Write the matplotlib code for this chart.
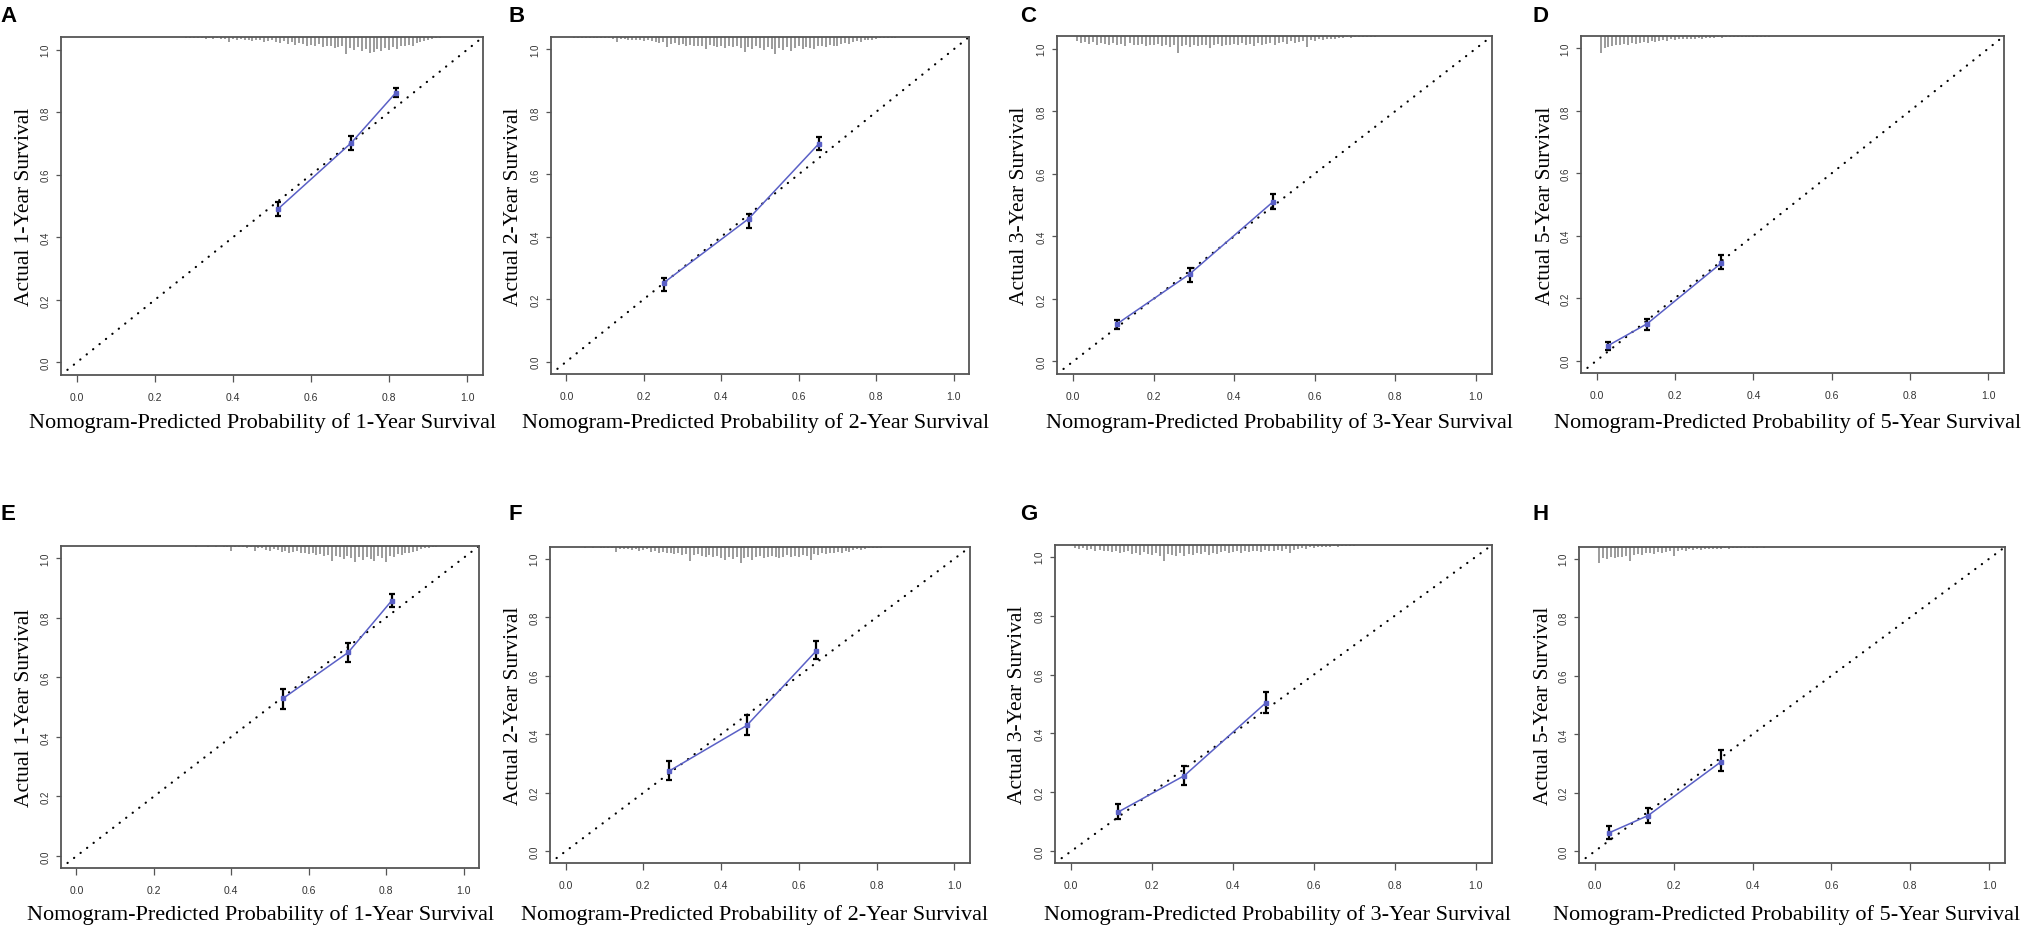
import matplotlib
matplotlib.use("Agg")
import matplotlib.pyplot as plt
import numpy as np

W, H = 2023, 928

# ---------------- data ----------------
panel_letters = ["A", "B", "C", "D", "E", "F", "G", "H"]
years = ["1", "2", "3", "5", "1", "2", "3", "5"]

# calibration points: predicted, observed, CI low, CI high
pred_A = [0.515, 0.703, 0.817]; obs_A = [0.490, 0.702, 0.862]; lo_A = [0.467, 0.680, 0.847]; hi_A = [0.512, 0.723, 0.878]
pred_B = [0.251, 0.471, 0.652]; obs_B = [0.252, 0.458, 0.698]; lo_B = [0.227, 0.428, 0.677]; hi_B = [0.268, 0.474, 0.719]
pred_C = [0.109, 0.289, 0.497]; obs_C = [0.120, 0.279, 0.511]; lo_C = [0.104, 0.255, 0.487]; hi_C = [0.134, 0.298, 0.535]
pred_D = [0.028, 0.129, 0.318]; obs_D = [0.047, 0.118, 0.312]; lo_D = [0.035, 0.097, 0.292]; hi_D = [0.060, 0.132, 0.337]
pred_E = [0.534, 0.702, 0.814]; obs_E = [0.529, 0.683, 0.856]; lo_E = [0.493, 0.650, 0.834]; hi_E = [0.560, 0.714, 0.880]
pred_F = [0.266, 0.466, 0.644]; obs_F = [0.274, 0.430, 0.684]; lo_F = [0.244, 0.396, 0.656]; hi_F = [0.309, 0.465, 0.719]
pred_G = [0.116, 0.280, 0.481]; obs_G = [0.133, 0.257, 0.504]; lo_G = [0.111, 0.226, 0.470]; hi_G = [0.160, 0.291, 0.540]
pred_H = [0.036, 0.135, 0.319]; obs_H = [0.063, 0.122, 0.305]; lo_H = [0.042, 0.097, 0.273]; hi_H = [0.085, 0.148, 0.347]

# distribution of predicted risk (relative spike heights in 0.01-wide bins)
rug_start_A = 0.28
rug_A = [0.05,0.05,0.08,0.05,0.08,0.1,0.05,0.1,0.08,0.1,0.12,
         0.3,
         0.1,0.15,0.12,0.2,0.15,0.25,0.2,0.15,0.3,0.25,
         0.2,0.3,0.35,0.25,0.4,0.3,0.45,0.35,0.4,0.5,
         0.45,0.55,0.4,0.6,0.5,0.55,0.65,0.6,0.5,1.0,
         0.65,0.75,0.6,0.8,0.7,0.95,0.9,0.7,0.8,0.65,
         0.75,0.6,0.7,0.5,0.55,0.45,0.5,0.35,0.3,0.25,
         0.15,0.1,0.08,0.05]
rug_start_B = 0.02
rug_B = [0.03,0.03,0.05,0.03,0.05,0.05,0.05,0.08,0.05,0.08,
         0.1,0.3,0.1,0.12,0.15,0.2,0.15,0.2,0.25,0.2,
         0.25,0.3,0.35,0.3,0.6,0.4,0.35,0.45,0.4,0.55,
         0.45,0.5,0.55,0.5,0.7,0.45,0.55,0.6,0.5,0.65,
         0.55,0.6,0.5,0.65,0.9,0.6,0.7,0.55,0.65,0.75,
         0.6,0.7,1.0,0.65,0.75,0.6,0.8,0.65,0.55,0.7,
         0.6,0.65,0.7,0.55,0.5,0.6,0.45,0.5,0.55,0.4,
         0.35,0.4,0.3,0.25,0.3,0.2,0.15,0.2,0.1,0.08,
         0.05,0.05,0.03,0.03]
rug_start_C = 0.01
rug_C = [0.3,0.4,0.35,0.45,0.35,0.5,0.4,0.45,0.55,0.4,
         0.5,0.45,0.6,0.4,0.55,0.5,0.45,0.6,0.5,0.55,
         0.45,0.6,0.5,0.65,0.55,1.0,0.6,0.5,0.65,0.55,
         0.6,0.5,0.55,0.7,0.5,0.45,0.6,0.5,0.55,0.45,
         0.5,0.4,0.55,0.45,0.6,0.4,0.5,0.45,0.4,0.5,
         0.4,0.35,0.45,0.3,0.4,0.35,0.3,0.65,0.25,0.3,
         0.2,0.25,0.15,0.2,0.15,0.1,0.1,0.08,0.1,0.05,
         0.05,0.05,0.03,0.03,0.03]
rug_start_D = 0.01
rug_D = [1.0,0.7,0.65,0.6,0.5,0.55,0.45,0.5,0.4,
         0.45,0.4,0.35,0.4,0.3,0.35,0.3,0.25,0.3,0.2,
         0.25,0.2,0.15,0.2,0.15,0.18,0.12,0.15,0.1,0.12,
         0.1,0.08,0.1,0.06,0.08,0.05,0.06,0.05,0.04,0.08,
         0.04,0.03,0.03,0.03,0.03,0.02,0.02,0.02,0.02,0.02,0.02]
rug_start_E = 0.28
rug_E = [0.03,0.03,0.03,0.05,0.03,0.03,0.05,0.03,0.05,0.03,0.05,0.05,
         0.3,0.05,0.08,0.05,0.1,0.08,0.3,0.1,0.15,0.25,
         0.3,0.2,0.25,0.35,0.3,0.4,0.35,0.3,0.45,0.4,
         0.5,0.45,0.55,0.5,0.6,0.55,0.9,0.6,0.7,0.8,
         0.6,0.75,1.0,0.7,0.85,0.65,0.8,0.9,0.6,0.75,
         0.95,0.6,0.7,0.5,0.55,0.4,0.45,0.35,0.3,0.2,
         0.15,0.1,0.05,0.05]
rug_start_F = 0.02
rug_F = [0.03,0.03,0.03,0.05,0.03,0.05,0.03,0.05,0.05,0.08,
         0.05,0.3,0.1,0.15,0.1,0.2,0.15,0.25,0.2,0.15,
         0.3,0.25,0.35,0.3,0.4,0.35,0.45,0.4,0.5,0.45,
         0.85,0.5,0.45,0.55,0.6,0.5,0.65,0.55,0.7,0.8,
         0.6,0.75,0.65,1.0,0.7,0.6,0.8,0.65,0.55,0.7,
         0.6,0.55,0.65,0.7,0.6,0.5,0.65,0.55,0.6,0.5,
         0.55,0.8,0.45,0.5,0.4,0.45,0.35,0.4,0.3,0.35,
         0.25,0.3,0.2,0.15,0.2,0.1,0.08,0.05,0.05,0.05,
         0.03]
rug_start_G = 0.01
rug_G = [0.2,0.25,0.2,0.3,0.25,0.35,0.3,0.4,0.35,0.45,
         0.4,0.5,0.45,0.4,0.55,0.5,0.6,0.45,0.55,0.6,
         0.5,0.65,1.0,0.55,0.6,0.7,0.5,0.65,0.55,0.6,
         0.5,0.55,0.45,0.6,0.5,0.55,0.45,0.4,0.5,0.45,
         0.4,0.5,0.35,0.45,0.4,0.35,0.45,0.3,0.4,0.35,
         0.3,0.35,0.25,0.5,0.3,0.25,0.2,0.25,0.15,0.2,
         0.15,0.12,0.1,0.12,0.08,0.1,0.05,0.08,0.05,0.05,
         0.03,0.03]
rug_start_H = 0.01
rug_H = [1.0,0.7,0.75,0.65,0.7,0.6,0.65,0.55,0.9,0.5,
         0.45,0.5,0.4,0.35,0.45,0.3,0.35,0.3,0.25,0.55,
         0.25,0.2,0.25,0.15,0.2,0.15,0.2,0.12,0.15,0.1,
         0.1,0.12,0.08,0.1,0.06,0.08,0.05,0.06,0.08,0.05,
         0.04,0.03,0.04,0.03,0.02,0.03,0.02,0.02,0.02,0.02]

x_ticks = [0.0, 0.2, 0.4, 0.6, 0.8, 1.0]
x_ticklabels = ["0.0", "0.2", "0.4", "0.6", "0.8", "1.0"]

preds = [pred_A, pred_B, pred_C, pred_D, pred_E, pred_F, pred_G, pred_H]
obss = [obs_A, obs_B, obs_C, obs_D, obs_E, obs_F, obs_G, obs_H]
los = [lo_A, lo_B, lo_C, lo_D, lo_E, lo_F, lo_G, lo_H]
his = [hi_A, hi_B, hi_C, hi_D, hi_E, hi_F, hi_G, hi_H]
rugs = [rug_A, rug_B, rug_C, rug_D, rug_E, rug_F, rug_G, rug_H]
rug_starts = [rug_start_A, rug_start_B, rug_start_C, rug_start_D,
              rug_start_E, rug_start_F, rug_start_G, rug_start_H]

# ---------------- layout (pixel boxes: left, right, top, bottom) ----------------
boxes = [(61, 483, 38, 376), (551, 969, 38, 375), (1057, 1492, 37, 375), (1581, 2004, 37, 374),
         (61, 479, 547, 869), (550, 970, 548, 864), (1055, 1492, 546, 864), (1579, 2005, 548, 864)]
letter_pos = [(0, 16), (508, 16), (1020, 16), (1533, 16),
              (0, 515), (508, 515), (1020, 515), (1533, 515)]
ylab_x = [25, 513, 1020, 1545, 25, 513, 1018, 1543]
xlab_y = [423, 423, 423, 423, 915, 915, 915, 915]
xlab_x = [263, 756, 1280, 1788, 261, 755, 1278, 1787]

fig = plt.figure(figsize=(W / 100, H / 100), dpi=100)
fig.patch.set_facecolor("white")

SERIF = ["Liberation Serif", "DejaVu Serif"]
NARROW = ["Liberation Sans Narrow", "Liberation Sans", "DejaVu Sans"]
SANS = ["Liberation Sans", "DejaVu Sans"]
BLUE = "#5a60c6"
RUG_LEN = 0.055

for i in range(8):
    l, r, t, b = boxes[i]
    ax = fig.add_axes([l / W, 1 - b / H, (r - l) / W, (b - t) / H])
    ax.set_xlim(-0.04, 1.04)
    ax.set_ylim(-0.04, 1.04)
    for s in ax.spines.values():
        s.set_color("#555555")
        s.set_linewidth(1.3)

    # ideal line
    ax.plot([-0.04, 1.04], [-0.04, 1.04], color="black", lw=1.6,
            linestyle=(0, (0.1, 3.6)), dash_capstyle="round", zorder=2)

    # risk distribution spikes hanging from the top
    h = np.array(rugs[i])
    xs = np.round(rug_starts[i] + 0.01 * np.arange(len(h)), 3)
    top = 1.04
    ax.vlines(xs, top - h * RUG_LEN, top, color="#808080", lw=1.1, zorder=1)

    # calibration curve
    p = np.array(preds[i]); o = np.array(obss[i])
    lo = np.array(los[i]); hi = np.array(his[i])
    ax.errorbar(p, o, yerr=[o - lo, hi - o], fmt="none", ecolor="black",
                elinewidth=1.6, capsize=2.5, capthick=1.6, zorder=3)
    ax.plot(p, o, color=BLUE, lw=1.1, marker="s", ms=3, mfc=BLUE, mec=BLUE, zorder=4)

    ax.set_xticks(x_ticks)
    ax.set_xticklabels(x_ticklabels, fontfamily=NARROW, fontsize=7.5, color="#333333")
    ax.set_yticks(x_ticks)
    ax.set_yticklabels(x_ticklabels, fontfamily=SANS, fontsize=7, color="#333333",
                       rotation=90, va="center")
    ax.tick_params(axis="x", length=5, width=0.9, color="#555555", pad=7)
    ax.tick_params(axis="y", length=3.5, width=0.9, color="#555555", pad=4)

    # texts
    fig.text(letter_pos[i][0] / W, 1 - letter_pos[i][1] / H, panel_letters[i],
             fontfamily=SANS, fontweight="bold", fontsize=16, ha="left", va="center")
    fig.text(ylab_x[i] / W, 1 - ((t + b) / 2) / H, f"Actual {years[i]}-Year Survival",
             fontfamily=SERIF, fontsize=15.5, rotation=90, ha="center", va="center")
    fig.text(xlab_x[i] / W, 1 - xlab_y[i] / H,
             f"Nomogram-Predicted Probability of {years[i]}-Year Survival",
             fontfamily=SERIF, fontsize=16, ha="center", va="center")

fig.savefig("out.png", dpi=100, facecolor="white")
